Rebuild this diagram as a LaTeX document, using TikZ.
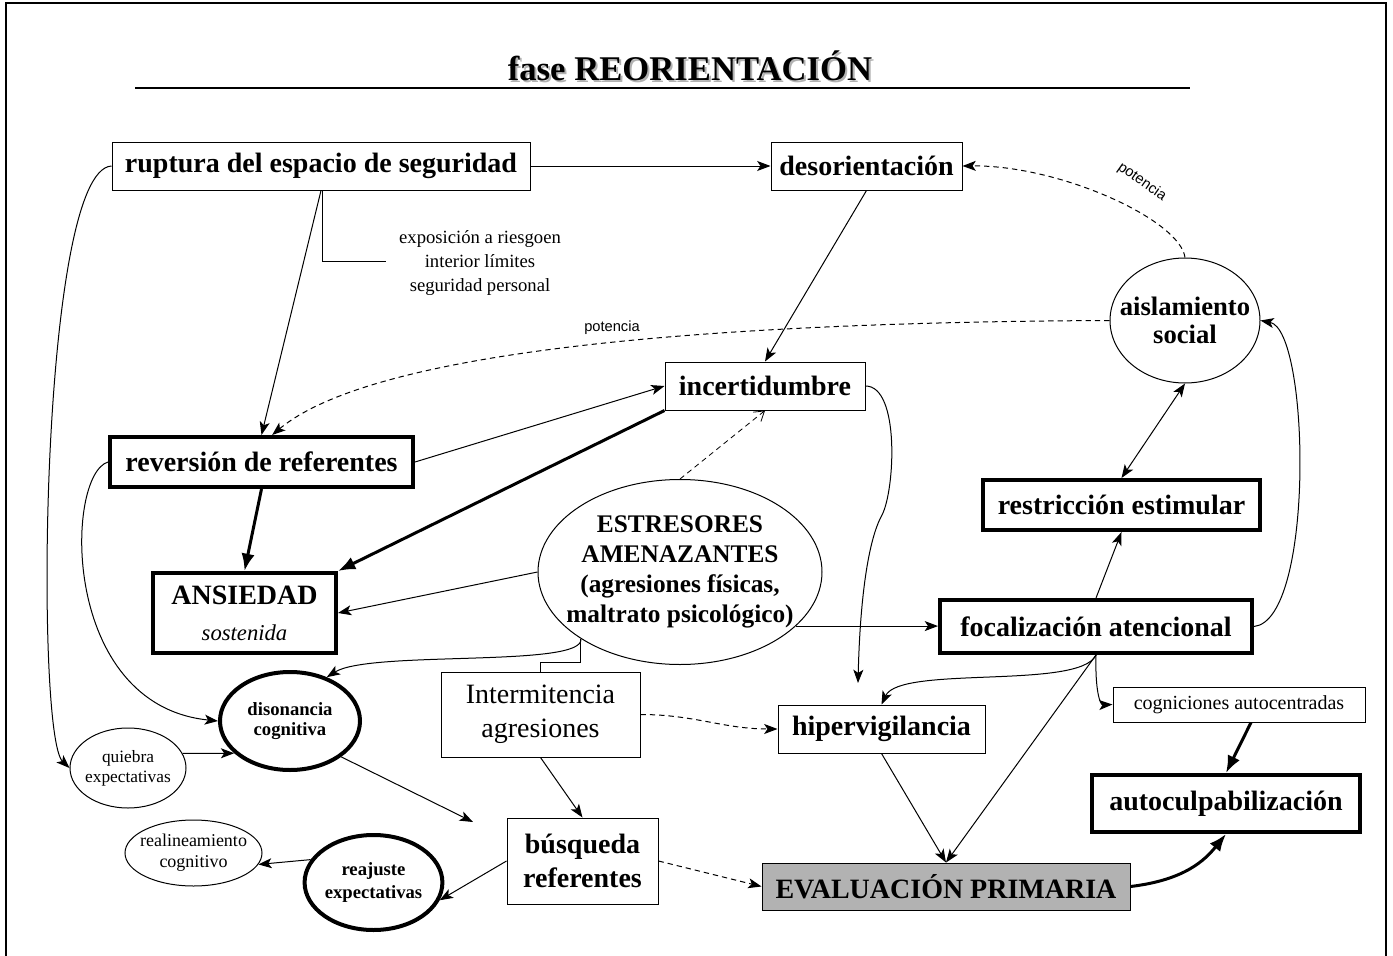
\documentclass[tikz,border=0pt]{standalone}
\usepackage{fontspec}
\setmainfont{Liberation Serif}
\newfontfamily\sansf{Liberation Sans}
\usetikzlibrary{arrows.meta,shapes.geometric}
\newcommand\myfs[2]{\fontsize{#1}{#2}\selectfont}
\begin{document}
\begin{tikzpicture}[x=0.75pt,y=-0.75pt,
 base/.style={draw, line width=0.75pt, inner sep=0pt, align=center, font=\myfs{21pt}{24pt}\bfseries},
 box/.style={base, rectangle},
 tbox/.style={base, rectangle, line width=3pt},
 ell/.style={base, ellipse},
 tell/.style={ell, line width=3pt},
 arr/.style={-{Stealth[length=10pt,width=7.5pt,inset=2.5pt]}, line width=0.75pt},
 arrb/.style={{Stealth[length=10pt,width=7.5pt,inset=2.5pt]}-{Stealth[length=10pt,width=7.5pt,inset=2.5pt]}, line width=0.75pt},
 tarr/.style={-{Latex[length=13pt,width=10pt]}, line width=2.25pt},
 darr/.style={arr, dash pattern=on 4pt off 3pt},
 oarr/.style={-{Straight Barb[length=7pt,width=9pt]}, line width=0.6pt, dash pattern=on 4pt off 3pt},
 lnk/.style={line width=0.75pt},
 potlbl/.style={font=\sansf\myfs{11pt}{13pt}}
]
\useasboundingbox (0,0) rectangle (1393,956);
% frame
\draw[line width=1.5pt] (6,956) -- (6,3) -- (1386,3) -- (1386,956);
% title
\node[font=\myfs{26pt}{30pt}\bfseries, text=black!30] at (692,67.5) {fase REORIENTACIÓN};
\node[font=\myfs{26pt}{30pt}\bfseries] (title) at (690,65.5) {fase REORIENTACIÓN};
\coordinate (tl) at (135,88);
\coordinate (tr) at (1190,88);
\draw[line width=1pt] (tl) -- (tr);

% nodes
\node[box, minimum width=313.5pt, minimum height=36pt] (rup) at (321,166) {ruptura del espacio de seguridad};
\node[box, minimum width=143.25pt, minimum height=36pt] (des) at (866.5,166) {desorientación};
\node[font=\myfs{14pt}{18pt}, align=center] (expo) at (480,263) {exposición a riesgoen\\interior límites\\seguridad personal};
\node[box, minimum width=150pt, minimum height=36pt] (inc) at (765,386) {incertidumbre};
\node[tbox, minimum width=227.25pt, minimum height=37.5pt] (rev) at (261.5,462) {reversión de referentes};
\node[tbox, minimum width=137.25pt, minimum height=60pt] (ans) at (244.5,613) {ANSIEDAD\\[3pt]{\myfs{17pt}{20pt}\mdseries\itshape sostenida}};
\node[ell, inner xsep=-14pt, inner ysep=-8pt, minimum width=213pt, minimum height=138.75pt, font=\myfs{19pt}{22.5pt}\bfseries] (est) at (680,572) {ESTRESORES\\AMENAZANTES\\(agresiones físicas,\\maltrato psicológico)};
\node[tell, minimum width=105pt, minimum height=73.5pt, font=\myfs{14pt}{15.5pt}\bfseries] (dis) at (290,721) {disonancia\\cognitiva};
\node[ell, inner xsep=-3pt, minimum width=87pt, minimum height=60pt, font=\myfs{13pt}{15pt}] (qui) at (128,768) {quiebra\\expectativas};
\node[box, minimum width=149.25pt, minimum height=63.75pt, font=\myfs{21pt}{25.5pt}] (int) at (540.5,714.5) {Intermitencia\\agresiones};
\node[box, minimum width=113.25pt, minimum height=64.5pt, font=\myfs{21pt}{25.5pt}\bfseries] (bus) at (582.5,861) {búsqueda\\referentes};
\node[tell, minimum width=102.75pt, minimum height=71.25pt, font=\myfs{14pt}{17pt}\bfseries] (rea) at (373.5,882.5) {reajuste\\expectativas};
\node[ell, inner xsep=-8pt, inner ysep=-3pt, minimum width=102.75pt, minimum height=49.5pt, font=\myfs{13.5pt}{15.75pt}] (ral) at (193.5,853) {realineamiento\\cognitivo};
\node[box, fill=black!30, minimum width=276pt, minimum height=35.25pt] (eva) at (946,886.5) {EVALUACIÓN PRIMARIA};
\node[box, minimum width=155.25pt, minimum height=36pt] (hip) at (881.5,729) {hipervigilancia};
\node[tbox, minimum width=234pt, minimum height=39.75pt] (foc) at (1096,626.5) {focalización atencional};
\node[tbox, minimum width=207.75pt, minimum height=37.5pt] (res) at (1121.5,505) {restricción estimular};
\node[ell, inner xsep=-10pt, inner ysep=-4pt, minimum width=112.5pt, minimum height=93.75pt, font=\myfs{20pt}{21pt}\bfseries] (ais) at (1185,320.5) {aislamiento\\social};
\node[box, minimum width=189pt, minimum height=26.25pt, font=\myfs{15pt}{17pt}] (cog) at (1239,704.5) {cogniciones autocentradas};
\node[tbox, minimum width=201pt, minimum height=42.75pt] (aut) at (1226,803.5) {autoculpabilización};

% labels
\node[potlbl] (pot1) at (612,328) {potencia};
\node[potlbl, rotate=-35] (pot2) at (1142,182) {potencia};

% connectors
\draw[arr] (rup.east) -- (des.west);
\coordinate (brk0) at (322,0);
\coordinate (brk) at (386,261);
\draw[lnk] (rup.south -| brk0) |- (brk);
\draw[arr] (rup.south) -- (rev.north);
\draw[darr] (ais.west) .. controls (750,322) and (380,345) .. ([xshift=8pt]rev.north);
\draw[darr] (ais.north) .. controls (1180,220) and (1060,165) .. (des.east);
\draw[arr] (des.south) -- (inc.north);
\draw[arr] (rev.east) -- (inc.west);
\draw[tarr] (inc.south west) -- (ans.north east);
\draw[tarr] (rev.south) -- (ans.north);
\draw[arr] (est.west) -- (ans.east);
\draw[oarr] (est.north) -- (inc.south);
\draw[arr] (est.-25) -- (est.-25 -| foc.west);
\coordinate (esp) at (est.-146);
\coordinate (intk) at (0,662);
\draw[arr] (esp) .. controls (585,668) and (370,650) .. (dis.50);
\draw[lnk] (esp) -- (esp |- intk) -| (int.north);
\draw[arr] (rev.west) .. controls (65,475) and (60,705) .. (dis.west);
\draw[arr] (rup.west) .. controls (40,170) and (35,735) .. (qui.west);
\draw[arr] (qui.15) -- (dis.-150);
\coordinate (dfree) at (473,822);
\draw[arr] (dis.-35) -- (dfree);
\draw[arr] (int.south) -- (bus.north);
\draw[darr] (int.east) to[out=0,in=180] (hip.west);
\draw[arr] (bus.west) -- (rea.-15);
\draw[arr] (rea.160) -- (ral.-10);
\draw[darr] (bus.east) -- (eva.west);
\draw[arr] (hip.south) -- (eva.north);
\draw[arr] (foc.south) -- (eva.north);
\coordinate (hipin) at (858,683);
\draw[arr] (inc.east) .. controls (900,386) and (895,490) .. (882,515) .. controls (868,540) and (860,600) .. (hipin);
\draw[arr] (foc.south) .. controls (1080,690) and (900,665) .. (hip.north);
\draw[arr] (foc.south) .. controls (1095,690) and (1100,705) .. (cog.west);
\draw[arr] (foc.north) -- (res.south);
\draw[arrb] (res.north) -- (ais.south);
\draw[arr] (foc.east) .. controls (1315,620) and (1310,330) .. (ais.east);
\draw[tarr] ([xshift=9pt]cog.south) -- (aut.north);
\draw[tarr] (eva.east) .. controls (1185,880) and (1205,860) .. (aut.south);
\end{tikzpicture}
\end{document}
